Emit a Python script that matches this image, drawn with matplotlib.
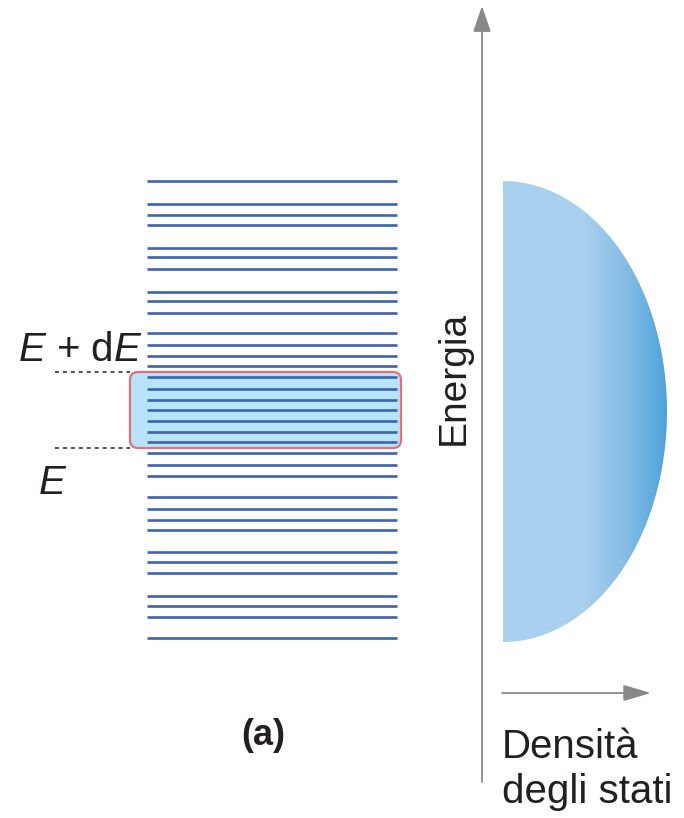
import numpy as np
import matplotlib
matplotlib.use("Agg")
import matplotlib.pyplot as plt
from matplotlib.patches import FancyBboxPatch, Ellipse
from matplotlib.colors import LinearSegmentedColormap

# ---- data: energy levels (vertical position of each level, drawing units, top = 0)
levels = [181, 204, 215, 225, 248, 257, 269, 292, 301, 313, 333, 345, 356, 366,
          377, 389, 400, 410, 421, 432, 442, 453, 465, 476, 497, 509, 520, 530,
          552, 562, 573, 596, 606, 617, 638]
band_E = 448        # lower energy E of the selected interval
band_EdE = 372      # upper energy E + dE
dos_top, dos_bottom = 181, 642
dos_max = 164       # maximum width of density-of-states dome

labels = {"EdE": "$E$ + d$E$", "E": "$E$", "energy": "Energia",
          "dos1": "Densità", "dos2": "degli stati", "panel": "(a)"}

W, H = 684, 818
fig = plt.figure(figsize=(W / 100, H / 100), dpi=100)
ax = fig.add_axes([0, 0, 1, 1])
ax.set_xlim(0, W)
ax.set_ylim(H, 0)
ax.axis("off")

plt.rcParams["mathtext.fontset"] = "custom"
plt.rcParams["mathtext.it"] = "Liberation Sans:italic"
plt.rcParams["mathtext.rm"] = "Liberation Sans"
font = "Liberation Sans"
txtc = "#231f20"

# highlighted box
box = FancyBboxPatch((130, band_EdE), 401 - 130, band_E - band_EdE,
                     boxstyle="round,pad=0,rounding_size=8",
                     facecolor="#b9e3f8", edgecolor="#e5707c", linewidth=1.6, zorder=1)
ax.add_patch(box)

# levels
ax.hlines(levels, 147, 397, colors="#3d63ad", linewidth=1.9, zorder=2)

# dotted guides
ax.hlines([band_EdE, band_E], 55, 130, colors="#444444", linewidth=1.3,
          linestyles=(0, (2.2, 2.2)), zorder=2)

ax.text(18, 361, labels["EdE"], fontsize=29, family=font, color=txtc,
        ha="left", va="baseline")
ax.text(38, 494, labels["E"], fontsize=29, family=font, color=txtc,
        ha="left", va="baseline")

# energy axis
ax.annotate("", xy=(482, 6), xytext=(482, 782),
            arrowprops=dict(arrowstyle="-|>,head_length=1.6,head_width=0.55",
                            color="#888888", linewidth=1.3, shrinkA=0, shrinkB=0))
ax.text(464, 378, labels["energy"], fontsize=28, family=font, color=txtc,
        rotation=90, ha="center", va="baseline", rotation_mode="anchor")

# DOS dome with gradient
cx = 503
cy = (dos_top + dos_bottom) / 2
ell = Ellipse((cx, cy), 2 * dos_max, dos_bottom - dos_top, facecolor="none",
              edgecolor="none")
ax.add_patch(ell)
cmap = LinearSegmentedColormap.from_list(
    "dome", [(0, "#aad1ef"), (0.5, "#a9d0ee"), (0.75, "#86bde6"), (1, "#4ea2da")])
grad = np.linspace(0, 1, 256)[None, :]
im = ax.imshow(grad, cmap=cmap, extent=[cx, cx + dos_max, dos_bottom, dos_top],
               aspect="auto", interpolation="bilinear", zorder=1)
im.set_clip_path(ell)
ax.set_xlim(0, W)
ax.set_ylim(H, 0)

# DOS axis arrow
ax.annotate("", xy=(651, 693), xytext=(502, 693),
            arrowprops=dict(arrowstyle="-|>,head_length=1.7,head_width=0.5",
                            color="#888888", linewidth=1.3, shrinkA=0, shrinkB=0))
ax.text(502, 758, labels["dos1"], fontsize=29, family=font, color=txtc,
        ha="left", va="baseline")
ax.text(502, 803, labels["dos2"], fontsize=29, family=font, color=txtc,
        ha="left", va="baseline")

ax.text(263, 745, labels["panel"], fontsize=26, family=font, weight="bold",
        color=txtc, ha="center", va="baseline")

fig.savefig("out.png", dpi=100)
